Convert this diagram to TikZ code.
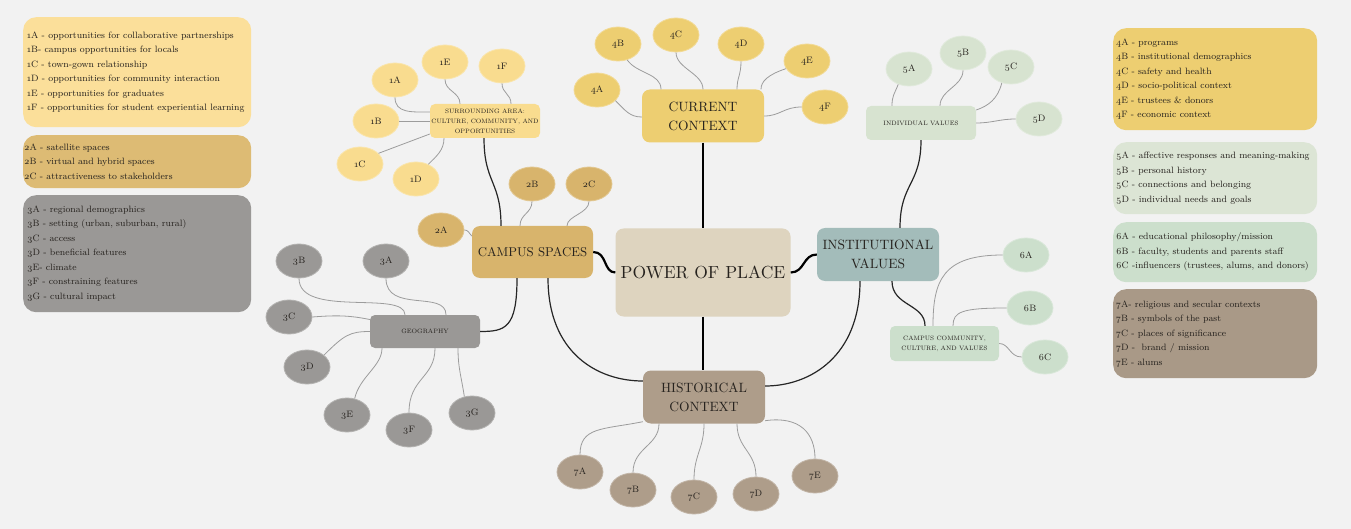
\documentclass[tikz,border=0pt]{standalone}
\usepackage{fontspec}
\setmainfont{lmroman10-regular.otf}[Numbers=OldStyle]
\newfontfamily\smallrm{lmroman8-regular.otf}[Numbers=OldStyle]
\newfontfamily\tinyrm{lmroman7-regular.otf}[Numbers=OldStyle]
\usetikzlibrary{calc,shapes.geometric}
\definecolor{bg}{HTML}{F2F2F2}
\definecolor{txt}{HTML}{26221E}
\definecolor{c1}{HTML}{F9DC8F}
\definecolor{l1}{HTML}{FBDF9A}
\definecolor{c2}{HTML}{D8B46C}
\definecolor{l2}{HTML}{DDBB74}
\definecolor{c3}{HTML}{9A9896}
\definecolor{c4}{HTML}{EDCE71}
\definecolor{c5}{HTML}{D7E3D0}
\definecolor{l5}{HTML}{DCE5D5}
\definecolor{c6}{HTML}{CCDFCC}
\definecolor{c7}{HTML}{AE9D8A}
\definecolor{l7}{HTML}{A99987}
\definecolor{inst}{HTML}{A3BCBA}
\definecolor{pow}{HTML}{DED4BF}
\definecolor{leafline}{HTML}{9C9C9C}
\begin{document}
\begin{tikzpicture}[x=1pt,y=-1pt,
  mainbox/.style={rounded corners=8pt, align=center, text=txt, inner sep=0pt, minimum width=122pt, minimum height=53pt, font=\fontsize{13.5}{19}\selectfont},
  subbox/.style={rounded corners=5pt, align=center, text=txt, inner sep=0pt, minimum width=110pt, minimum height=34pt, font=\tinyrm\fontsize{6.3}{10}\selectfont},
  leaf/.style={ellipse, minimum width=46pt, minimum height=34pt, inner sep=0pt, text=txt, draw=#1!75!white, line width=0.8pt, fill=#1, font=\smallrm\fontsize{9.3}{10}\selectfont},
  lbox/.style={rounded corners=13pt, inner sep=0pt, draw=none},
  ltext/.style={align=left, inner sep=0pt, text=txt, font=\smallrm\fontsize{9.2}{14.5}\selectfont},
  mainlink/.style={draw=black, line width=2.2pt},
  sublink/.style={draw=black!85, line width=1.2pt},
  leaflink/.style={draw=leafline, line width=0.8pt}
]
\path[fill=bg] (0,0) rectangle (1351,529);
\useasboundingbox (0,0) rectangle (1351,529);

% legends left
\node[lbox, fill=l1, minimum width=228pt, minimum height=110pt, anchor=north west] (L1) at (23,17) {};
\node[ltext, anchor=west] (T1) at ([xshift=4pt]L1.west) {1A - opportunities for collaborative partnerships\\1B- campus opportunities for locals\\1C - town-gown relationship\\1D - opportunities for community interaction\\1E - opportunities for graduates\\1F - opportunities for student experiential learning};
\node[lbox, fill=l2, minimum width=228pt, minimum height=53pt, anchor=north west] (L2) at (23,135) {};
\node[ltext, anchor=west] (T2) at ([xshift=1pt]L2.west) {2A - satellite spaces\\2B - virtual and hybrid spaces\\2C - attractiveness to stakeholders};
\node[lbox, fill=c3, minimum width=228pt, minimum height=117pt, anchor=north west] (L3) at (23,195) {};
\node[ltext, anchor=west] (T3) at ([xshift=4pt]L3.west) {3A - regional demographics\\3B - setting (urban, suburban, rural)\\3C - access\\3D - beneficial features\\3E- climate\\3F - constraining features\\3G - cultural impact};

% legends right
\node[lbox, fill=c4, minimum width=204pt, minimum height=102pt, anchor=north west] (L4) at (1113,28) {};
\node[ltext, anchor=west] (T4) at ([xshift=3pt]L4.west) {4A - programs\\4B - institutional demographics\\4C - safety and health\\4D - socio-political context\\4E - trustees \& donors\\4F - economic context};
\node[lbox, fill=l5, minimum width=204pt, minimum height=72pt, anchor=north west] (L5) at (1113,142) {};
\node[ltext, anchor=west] (T5) at ([xshift=3pt]L5.west) {5A - affective responses and meaning-making\\5B - personal history\\5C - connections and belonging\\5D - individual needs and goals};
\node[lbox, fill=c6, minimum width=204pt, minimum height=60pt, anchor=north west] (L6) at (1113,222) {};
\node[ltext, anchor=west] (T6) at ([xshift=3pt]L6.west) {6A - educational philosophy/mission\\6B - faculty, students and parents staff\\6C -influencers (trustees, alums, and donors)};
\node[lbox, fill=l7, minimum width=204pt, minimum height=89pt, anchor=north west] (L7) at (1113,289) {};
\node[ltext, anchor=west] (T7) at ([xshift=3pt]L7.west) {7A- religious and secular contexts\\7B - symbols of the past\\7C - places of significance\\7D -~ brand / mission\\7E - alums};

% main nodes
\node[mainbox, fill=pow, minimum width=175pt, minimum height=88pt, font=\fontsize{17.5}{20}\selectfont] (pow) at (703,272.5) {POWER OF PLACE};
\node[mainbox, fill=c4] (cur) at (703,116) {CURRENT\\CONTEXT};
\node[mainbox, fill=c2, minimum width=121pt, minimum height=52pt, font=\fontsize{12.8}{16}\selectfont] (camp) at (532.5,252) {CAMPUS SPACES};
\node[mainbox, fill=inst] (inst) at (878,254.5) {INSTITUTIONAL\\VALUES};
\node[mainbox, fill=c7] (hist) at (704,397) {HISTORICAL\\CONTEXT};

% sub boxes
\node[subbox, fill=c1] (sur) at (485,121) {SURROUNDING AREA:\\CULTURE, COMMUNITY, AND\\OPPORTUNITIES};
\node[subbox, fill=c3, minimum height=33pt] (geo) at (425,331.5) {GEOGRAPHY};
\node[subbox, fill=c5] (ind) at (921,123) {INDIVIDUAL VALUES};
\node[subbox, fill=c6, minimum width=109pt, minimum height=35pt] (ccv) at (944.5,343.5) {CAMPUS COMMUNITY,\\CULTURE, AND VALUES};

% leaves 1
\node[leaf=c1] (e1A) at (395,80) {1A};
\node[leaf=c1] (e1E) at (445,62) {1E};
\node[leaf=c1] (e1F) at (502,66) {1F};
\node[leaf=c1] (e1B) at (376,121) {1B};
\node[leaf=c1] (e1C) at (360,164) {1C};
\node[leaf=c1] (e1D) at (416,179) {1D};
% leaves 2
\node[leaf=c2] (e2A) at (441,230) {2A};
\node[leaf=c2] (e2B) at (532,184) {2B};
\node[leaf=c2] (e2C) at (589,184) {2C};
% leaves 3
\node[leaf=c3] (e3A) at (386,261) {3A};
\node[leaf=c3] (e3B) at (299,261) {3B};
\node[leaf=c3] (e3C) at (289,317) {3C};
\node[leaf=c3] (e3D) at (307,367) {3D};
\node[leaf=c3] (e3E) at (347,415) {3E};
\node[leaf=c3] (e3F) at (409,430) {3F};
\node[leaf=c3] (e3G) at (472,413) {3G};
% leaves 4
\node[leaf=c4] (e4A) at (597,90) {4A};
\node[leaf=c4] (e4B) at (618,44) {4B};
\node[leaf=c4] (e4C) at (676,35) {4C};
\node[leaf=c4] (e4D) at (741,44) {4D};
\node[leaf=c4] (e4E) at (807,61) {4E};
\node[leaf=c4] (e4F) at (825,107) {4F};
% leaves 5
\node[leaf=c5] (e5A) at (909,69) {5A};
\node[leaf=c5] (e5B) at (963,53) {5B};
\node[leaf=c5] (e5C) at (1011,67) {5C};
\node[leaf=c5] (e5D) at (1039,119) {5D};
% leaves 6
\node[leaf=c6] (e6A) at (1026,255) {6A};
\node[leaf=c6] (e6B) at (1030,308) {6B};
\node[leaf=c6] (e6C) at (1045,357) {6C};
% leaves 7
\node[leaf=c7] (e7A) at (580,472) {7A};
\node[leaf=c7] (e7B) at (633,490) {7B};
\node[leaf=c7] (e7C) at (694,497) {7C};
\node[leaf=c7] (e7D) at (756,494) {7D};
\node[leaf=c7] (e7E) at (815,476) {7E};

% main links
\draw[mainlink] (cur.south) -- (pow.north);
\draw[mainlink] (pow.south) -- (pow.south |- hist.north);
\draw[mainlink] (camp.east) .. controls +(14,0) and +(-12,0) .. (pow.west);
\draw[mainlink] (pow.east) .. controls +(14,0) and +(-14,0) .. (inst.west);

% sub links
\draw[sublink] ([xshift=15.5pt]camp.south) .. controls +(0,75) and +(-45,0) .. ([yshift=16pt]hist.west);
\draw[sublink] ([xshift=-18pt]inst.south) .. controls +(0,75) and +(45,0) .. ([yshift=11pt]hist.east);
\draw[sublink] ([xshift=-1pt]sur.south) .. controls +(0,45) and +(0,-45) .. ([xshift=-31.5pt]camp.north);
\draw[sublink] ([xshift=-15.5pt]camp.south) .. controls +(0,50) and +(25,0) .. (geo.east);
\draw[sublink] (ind.south) .. controls +(0,45) and +(0,-45) .. ([xshift=22pt]inst.north);
\draw[sublink] ([xshift=14pt]inst.south) .. controls +(0,25) and +(0,-22) .. ([xshift=-19.5pt]ccv.north);

% leaf links 1
\draw[leaflink] (e1A.south) .. controls +(0,16) and +(-18,0) .. ([yshift=9pt]sur.west);
\draw[leaflink] (e1E.south) .. controls +(0,12) and +(0,-12) .. ([xshift=-25pt]sur.north);
\draw[leaflink] (e1F.south) .. controls +(0,10) and +(0,-10) .. ([xshift=26pt]sur.north);
\draw[leaflink] (e1B.east) -- (sur.west);
\draw[leaflink] (e1C.30) -- ([yshift=-13pt]sur.west);
\draw[leaflink] (e1D.50) .. controls +(8,-8) and +(0,12) .. ([xshift=-41pt]sur.south);
% leaf links 2
\draw[leaflink] (e2A.east) .. controls +(4,0) and +(-3,-3) .. ([yshift=16pt]camp.west);
\draw[leaflink] (e2B.south) .. controls +(0,12) and +(0,-12) .. ([xshift=-12.5pt]camp.north);
\draw[leaflink] (e2C.south) .. controls +(0,12) and +(0,-10) .. ([xshift=34.5pt]camp.north);
% leaf links 3
\draw[leaflink] (e3A.south) .. controls +(0,35) and +(0,-25) .. ([xshift=21pt]geo.north);
\draw[leaflink] (e3B.south) .. controls +(0,40) and +(0,-25) .. ([xshift=-20pt]geo.north);
\draw[leaflink] (e3C.east) .. controls +(25,-2) and +(-20,-4) .. ([yshift=12pt]geo.west);
\draw[leaflink] (e3D.35) .. controls +(20,-20) and +(-20,0) .. (geo.west);
\draw[leaflink] (e3E.65) .. controls +(5,-22) and +(0,18) .. ([xshift=-43pt]geo.south);
\draw[leaflink] (e3F.north) .. controls +(0,-35) and +(0,30) .. ([xshift=10pt]geo.south);
\draw[leaflink] (e3G.115) .. controls +(-3,-20) and +(0,20) .. ([xshift=33pt]geo.south);
% leaf links 4
\draw[leaflink] (e4A.-30) .. controls +(10,10) and +(-12,0) .. ([yshift=-1pt]cur.west);
\draw[leaflink] (e4B.-60) .. controls +(10,14) and +(0,-16) .. ([xshift=-42pt]cur.north);
\draw[leaflink] (e4C.south) .. controls +(0,16) and +(0,-16) .. (cur.north);
\draw[leaflink] (e4D.south) .. controls +(0,14) and +(0,-12) .. ([xshift=34pt]cur.north);
\draw[leaflink] (e4E.200) .. controls +(-18,6) and +(0,-8) .. ([xshift=58pt]cur.north);
\draw[leaflink] (e4F.west) .. controls +(-18,0) and +(16,0) .. (cur.east);
% leaf links 5
\draw[leaflink] (e5A.-125) .. controls +(-4,10) and +(0,-10) .. ([xshift=-29pt]ind.north);
\draw[leaflink] (e5B.south) .. controls +(0,16) and +(0,-16) .. ([xshift=19pt]ind.north);
\draw[leaflink] (e5C.-120) .. controls +(-4,16) and +(12,-4) .. ([yshift=13pt]ind.east);
\draw[leaflink] (e5D.west) .. controls +(-16,0) and +(16,0) .. (ind.east);
% leaf links 6
\draw[leaflink] (e6A.west) .. controls +(-60,0) and +(0,-45) .. ([xshift=-11.5pt]ccv.north);
\draw[leaflink] (e6B.west) .. controls +(-45,0) and +(0,-14) .. ([xshift=8.5pt]ccv.north);
\draw[leaflink] (e6C.west) .. controls +(-12,0) and +(10,0) .. (ccv.east);
% leaf links 7
\draw[leaflink] (e7A.north) .. controls +(0,-28) and +(-40,8) .. ([yshift=2pt]hist.south west);
\draw[leaflink] (e7B.north) .. controls +(0,-25) and +(0,22) .. ([xshift=-45pt]hist.south);
\draw[leaflink] (e7C.north) .. controls +(0,-25) and +(0,25) .. (hist.south);
\draw[leaflink] (e7D.north) .. controls +(0,-25) and +(0,25) .. ([xshift=33pt]hist.south);
\draw[leaflink] (e7E.north) .. controls +(0,-25) and +(35,-5) .. ([yshift=3pt]hist.south east);
\end{tikzpicture}
\end{document}
